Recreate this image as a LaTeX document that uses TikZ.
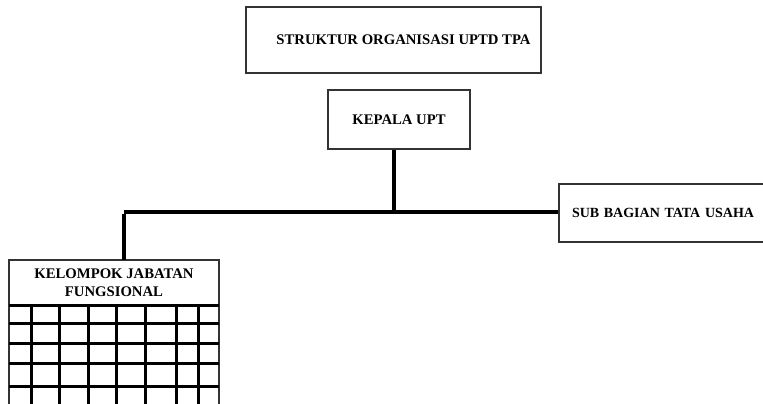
\documentclass[tikz,border=0pt]{standalone}
\usepackage{fontspec}
\setmainfont{Liberation Serif}
\begin{document}
\begin{tikzpicture}[x=1pt,y=-1pt,
  orgbox/.style={draw=black!80, line width=1.3pt, fill=white, inner sep=0pt,
    font=\bfseries\fontsize{14.7}{18}\selectfont, align=center},
  conn/.style={line width=3.4pt, line cap=butt},
  gridline/.style={line width=3pt}]
\useasboundingbox (0,0) rectangle (763,404);
\clip (0,0) rectangle (763,404);

% boxes
\node[orgbox, minimum width=295pt, minimum height=66pt] (title) at (393.5,40)
  {\hspace*{20pt}\raisebox{-2pt}{STRUKTUR ORGANISASI UPTD TPA}};
\node[orgbox, minimum width=142pt, minimum height=59pt] (kepala) at (399,119.5)
  {KEPALA UPT};
\node[orgbox, minimum width=240pt, minimum height=58pt, text width=240pt, align=left,
  font=\bfseries\fontsize{14}{18}\selectfont]
  (sub) at (679,213) {\hspace*{13pt}SUB BAGIAN TATA USAHA};

% functional group: header box plus the table below it
\draw[draw=black!80, line width=1.3pt, fill=white] (9,260) rectangle (219,420);
\node[inner sep=0pt, minimum width=210pt, minimum height=45pt,
  font=\bfseries\fontsize{14.7}{18}\selectfont, align=center] (kjf) at (114,283)
  {KELOMPOK JABATAN\\FUNGSIONAL};
\foreach \yy in {305,323,343,363,386}
  \draw[gridline] (9,\yy) -- (219,\yy);
\foreach \xx in {31,59,88,116,145,176,198}
  \draw[gridline] (\xx,305) -- (\xx,420);

% connectors
\coordinate (junc) at (394,212);
\coordinate (left) at (124,212);
\draw[conn] (kepala.south -| junc) -- (junc);
\draw[conn] (left) -- (sub.west |- junc);
\draw[conn] ([yshift=-1.7pt]left) -- (left |- kjf.north);
\end{tikzpicture}
\end{document}
